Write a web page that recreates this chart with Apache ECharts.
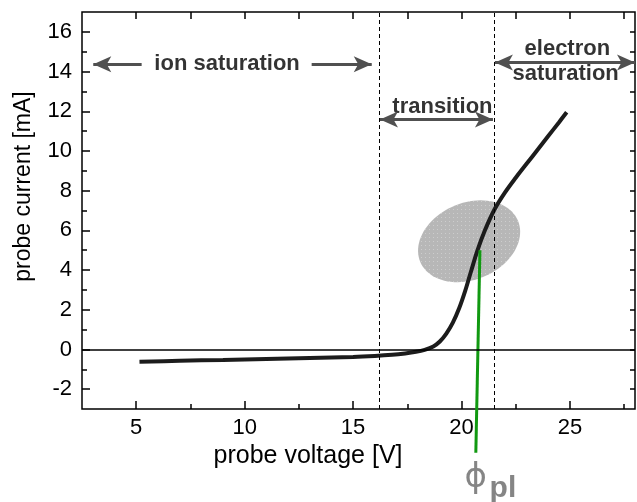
<!DOCTYPE html>
<html>
<head>
<meta charset="utf-8">
<script src="https://cdn.jsdelivr.net/npm/echarts@6/dist/echarts.min.js"></script>
<style>
  html, body { margin: 0; padding: 0; background: #fff; }
  #main { width: 637px; height: 502px; }
</style>
</head>
<body>
<div id="main"></div>
<script>
// I-V curve of the probe
var voltage = [5.15, 7, 9, 11, 13, 15, 16, 16.8, 17.4, 17.9, 18.3, 18.7, 19.0, 19.3, 19.6, 19.9,
  20.17, 20.43, 20.74, 21.08, 21.52, 22.0, 22.5, 23.0, 23.5, 24.0, 24.5, 24.85];
var current = [-0.62, -0.57, -0.53, -0.48, -0.43, -0.38, -0.33, -0.27, -0.2, -0.12, -0.02, 0.15, 0.4, 0.8, 1.35, 2.1,
  2.95, 3.9, 5.0, 6.0, 7.05, 7.9, 8.65, 9.35, 10.05, 10.75, 11.45, 11.95];

var xMajorTicks = [5, 10, 15, 20, 25];
var xMinorTicks = [7.5, 12.5, 17.5, 22.5, 27.5];
var yMajorTicks = [-2, 0, 2, 4, 6, 8, 10, 12, 14, 16];
var yMinorTicks = [-1, 1, 3, 5, 7, 9, 11, 13, 15];

// region borders (dashed) and plasma potential marker
var regionBounds = [16.21, 21.51];
var plasmaLine = [[20.85, 5.0], [20.66, -5.2]];
var haloCenter = [20.35, 5.45];

// arrows: [xFrom, yFrom, xTo, yTo]
var oneWayArrows = [[5.25, 14.37, 3.02, 14.37], [13.09, 14.37, 15.86, 14.37]];
var twoWayArrows = [[16.24, 11.59, 21.45, 11.59], [21.54, 14.46, 28, 14.46]];

var labelText = ['ion saturation', 'transition', 'electron', 'saturation'];
var labelX = [9.19, 19.12, 24.88, 24.8];
var labelY = [14.37, 12.24, 15.16, 13.87];

var phiText = ['\u03D5', 'pl'];
var phiX = [20.66, 21.91];
var phiY = [-6.48, -7.0];

var FONT = 'Liberation Sans, Arial, sans-serif';
var chart = echarts.init(document.getElementById('main'), null, { renderer: 'canvas' });

// dotted grey fill for the ellipse
var patCanvas = document.createElement('canvas');
patCanvas.width = 4;
patCanvas.height = 4;
var pctx = patCanvas.getContext('2d');
pctx.fillStyle = '#b7b7b7';
pctx.fillRect(0, 0, 4, 4);
pctx.fillStyle = '#cdcdcd';
pctx.fillRect(1, 1, 1, 1);

var haloRx = 53, haloRy = 38.4, haloAngle = 23 * Math.PI / 180;

function xAxisBase(extra) {
  return Object.assign({
    type: 'value', min: 2.5, max: 28, position: 'bottom',
    axisLine: { show: false, onZero: false }, splitLine: { show: false },
    axisLabel: { show: false }, axisTick: { show: false }
  }, extra);
}
function yAxisBase(extra) {
  return Object.assign({
    type: 'value', min: -3, max: 17, position: 'left',
    axisLine: { show: false, onZero: false }, splitLine: { show: false },
    axisLabel: { show: false }, axisTick: { show: false }
  }, extra);
}
function tick(values, len) {
  return { show: true, inside: true, length: len, customValues: values, lineStyle: { color: '#000', width: 1.5 } };
}

var curveData = voltage.map(function (v, i) { return [v, current[i]]; });

var arrowLines = [];
oneWayArrows.forEach(function (a) {
  arrowLines.push([{ coord: [a[0], a[1]], symbol: 'none' }, { coord: [a[2], a[3]], symbol: 'arrow' }]);
});
twoWayArrows.forEach(function (a) {
  arrowLines.push([{ coord: [a[0], a[1]], symbol: 'arrow' }, { coord: [a[2], a[3]], symbol: 'arrow' }]);
});
arrowLines.forEach(function (d) { d[0].lineStyle = { color: '#505050', width: 3, type: 'solid' }; });

var markData = [
  { yAxis: 0, lineStyle: { color: '#000', width: 1.5, type: 'solid' } }
].concat(regionBounds.map(function (v) {
  return { xAxis: v, lineStyle: { color: '#000', width: 1, type: [4, 3] } };
})).concat(arrowLines);

var hidden = { color: 'rgba(0,0,0,0)' };

var option = {
  animation: false,
  backgroundColor: '#fff',
  grid: {
    left: 82, right: 2, top: 12, bottom: 93,
    show: true, borderColor: '#000', borderWidth: 1.5, backgroundColor: 'transparent'
  },
  xAxis: [
    xAxisBase({
      axisTick: tick(xMajorTicks, 8),
      axisLabel: { show: true, customValues: xMajorTicks, fontSize: 22, color: '#000', fontFamily: FONT, margin: 8 },
      name: 'probe voltage [V]', nameLocation: 'middle', nameGap: 32,
      nameTextStyle: { fontSize: 25, color: '#000', fontFamily: FONT, padding: [0, 101, 0, 0] }
    }),
    xAxisBase({ axisTick: tick(xMinorTicks, 5) }),
    xAxisBase({ position: 'top', axisTick: tick(xMajorTicks.concat(xMinorTicks), 7) })
  ],
  yAxis: [
    yAxisBase({
      axisTick: tick(yMajorTicks, 8),
      axisLabel: { show: true, customValues: yMajorTicks, fontSize: 22, color: '#000', fontFamily: FONT, margin: 10 },
      name: 'probe current [mA]', nameLocation: 'middle', nameGap: 47,
      nameTextStyle: { fontSize: 23, color: '#000', fontFamily: FONT, padding: [0, 0, 0, 48] }
    }),
    yAxisBase({ axisTick: tick(yMinorTicks, 5) }),
    yAxisBase({ position: 'right', axisTick: tick(yMajorTicks.concat(yMinorTicks), 5) })
  ],
  series: [
    {
      type: 'custom',
      z: 1,
      silent: true,
      data: [haloCenter],
      renderItem: function (params, api) {
        var c = api.coord([api.value(0), api.value(1)]);
        var cosA = Math.cos(haloAngle), sinA = Math.sin(haloAngle);
        var pts = [];
        for (var i = 0; i < 90; i++) {
          var t = i / 90 * Math.PI * 2;
          var ex = haloRx * Math.cos(t), ey = haloRy * Math.sin(t);
          pts.push([c[0] + ex * cosA - ey * sinA, c[1] - (ex * sinA + ey * cosA)]);
        }
        return { type: 'polygon', shape: { points: pts }, style: { fill: { image: patCanvas, repeat: 'repeat' } } };
      }
    },
    {
      type: 'line',
      z: 2,
      data: curveData,
      smooth: 0.35,
      showSymbol: false,
      symbol: 'none',
      lineStyle: { color: '#1c1c1c', width: 4 },
      markLine: {
        silent: true,
        symbol: 'none',
        symbolSize: [12, 18],
        label: { show: false },
        emphasis: { disabled: true },
        data: markData
      }
    },
    {
      type: 'line',
      z: 3,
      data: plasmaLine,
      clip: false,
      symbol: 'none',
      lineStyle: { color: '#119911', width: 3 }
    },
    {
      type: 'scatter',
      z: 4,
      clip: false,
      silent: true,
      symbolSize: 1,
      itemStyle: hidden,
      data: labelText.map(function (t, i) {
        return { name: t, value: [labelX[i], labelY[i]] };
      }),
      label: {
        show: true, position: 'inside', formatter: '{b}',
        fontSize: 22, fontWeight: 'bold', color: '#000', fontFamily: FONT
      }
    },
    {
      type: 'scatter',
      z: 4,
      clip: false,
      silent: true,
      symbolSize: 1,
      itemStyle: hidden,
      data: phiText.map(function (t, i) {
        return {
          name: t, value: [phiX[i], phiY[i]],
          label: i === 0
            ? { fontSize: 34, fontWeight: 'normal', fontFamily: 'DejaVu Sans, ' + FONT }
            : { fontSize: 30, fontWeight: 'bold' }
        };
      }),
      label: {
        show: true, position: 'inside', formatter: '{b}',
        color: '#666', fontFamily: FONT
      }
    }
  ]
};

chart.setOption(option);
</script>
</body>
</html>
